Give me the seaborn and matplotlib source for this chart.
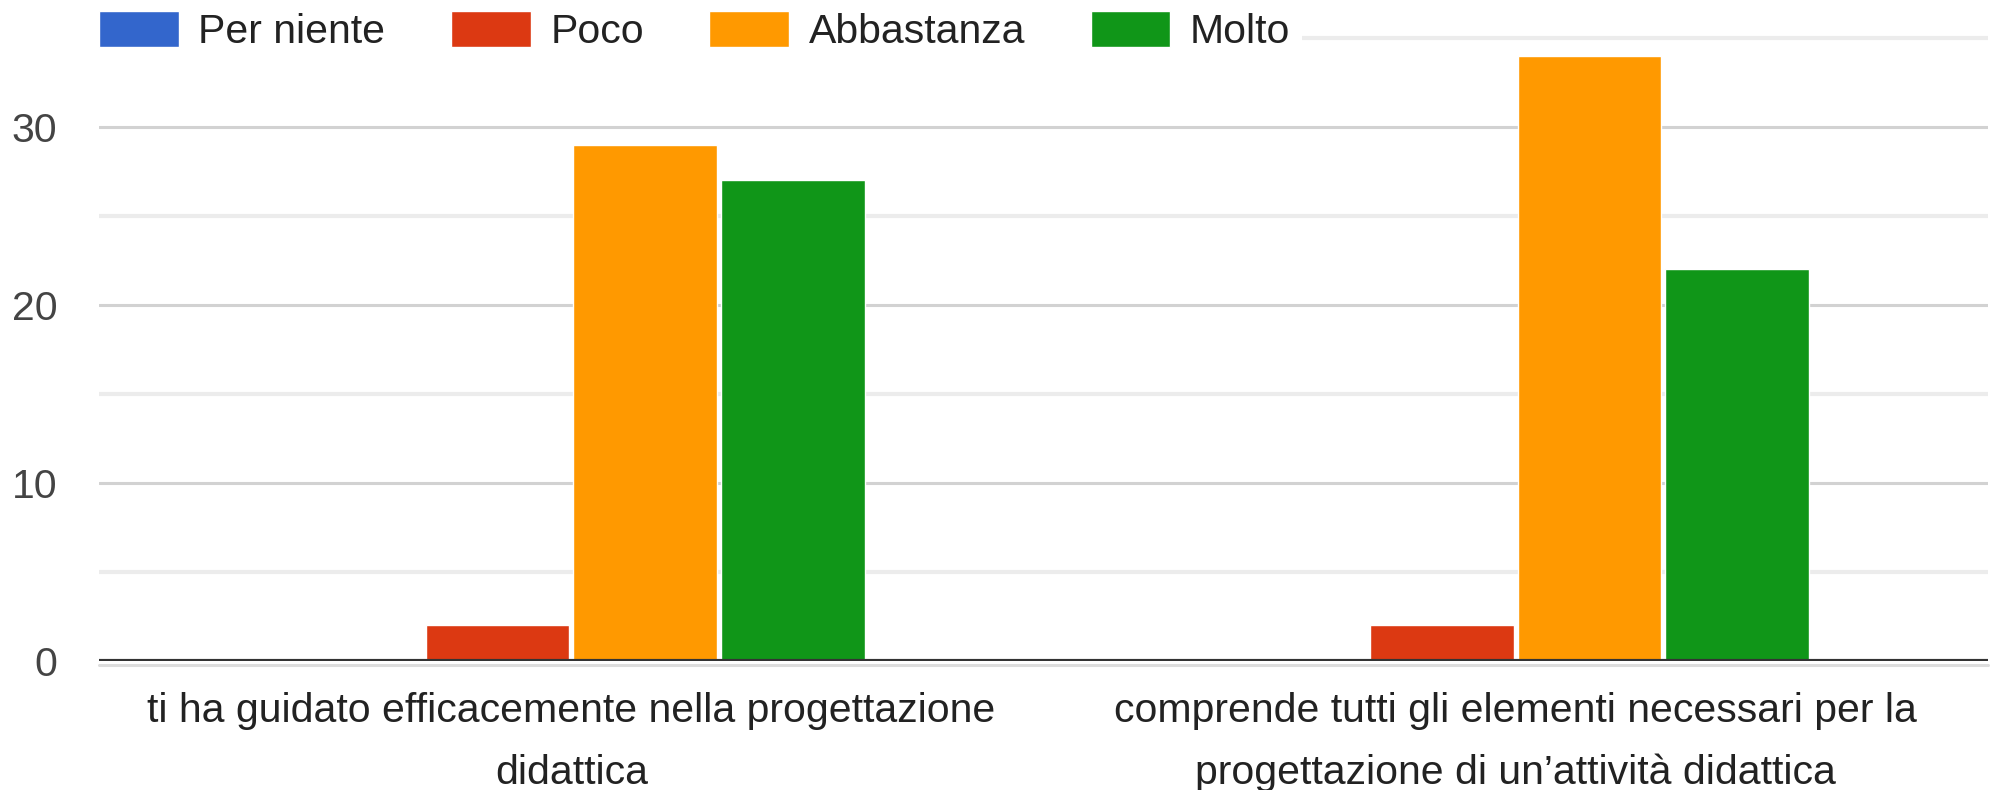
import pandas as pd
import matplotlib
matplotlib.use("Agg")
import matplotlib.pyplot as plt
import seaborn as sns

# dati
domande = [
    "ti ha guidato efficacemente nella progettazione\ndidattica",
    "comprende tutti gli elementi necessari per la\nprogettazione di un\u2019attivit\u00e0 didattica",
]
livelli = ["Per niente", "Poco", "Abbastanza", "Molto"]
per_niente = [0, 0]
poco = [2, 2]
abbastanza = [29, 34]
molto = [27, 22]
colori = ["#3366cc", "#dc3912", "#ff9900", "#109618"]

righe = []
for livello, valori in zip(livelli, [per_niente, poco, abbastanza, molto]):
    for d, v in zip(domande, valori):
        righe.append({"domanda": d, "livello": livello, "conteggio": v})
df = pd.DataFrame(righe)

sns.set_theme(style="white")
plt.rcParams['font.family'] = ['Liberation Sans', 'DejaVu Sans']
FS = 29.5

fig = plt.figure(figsize=(19.92, 7.9), dpi=100)
ax = fig.add_axes([99 / 1992, (790 - 661) / 790, (1988 - 99) / 1992, 661 / 790])

# griglia: linee principali ogni 10, secondarie ogni 5
for y in [5, 15, 25, 35]:
    ax.axhline(y, color="#ececec", lw=3, zorder=0)
for y in [10, 20, 30]:
    ax.axhline(y, color="#d2d2d2", lw=2.2, zorder=0)

sns.barplot(data=df, x="domanda", y="conteggio", hue="livello",
            hue_order=livelli, palette=colori, width=0.625, gap=0.025,
            saturation=1, ax=ax, zorder=2)

# linea dello zero scura con ombra chiara sotto
ax.axhline(-0.25, color="#dddddd", lw=2.2, zorder=3, clip_on=False)
ax.axhline(0, color="#333333", lw=3, zorder=3)
ax.set_ylim(0, 661 / 17.8)
ax.set_xlim(-0.5, 1.5)
ax.set_yticks([0, 10, 20, 30])
ax.tick_params(axis="y", length=0, pad=30, labelsize=FS, labelcolor="#444444")
ax.tick_params(axis="x", length=0, pad=22, labelsize=FS, labelcolor="#222222")
for lab in ax.get_xticklabels():
    lab.set_linespacing(1.8)
ax.set_xlabel("")
ax.set_ylabel("")
for s in ax.spines.values():
    s.set_visible(False)

handles, labels = ax.get_legend_handles_labels()
ax.legend(handles, labels, loc="center left",
          bbox_to_anchor=((99 - 12) / 1992, 1 - 31 / 790),
          bbox_transform=fig.transFigure, ncol=4, fontsize=FS,
          frameon=True, facecolor="white", edgecolor="none", framealpha=1,
          borderpad=0.3, borderaxespad=0, handlelength=1.95, handleheight=1.0,
          handletextpad=0.47, columnspacing=1.6, labelcolor="#222222")

fig.savefig("out.png", dpi=100)
